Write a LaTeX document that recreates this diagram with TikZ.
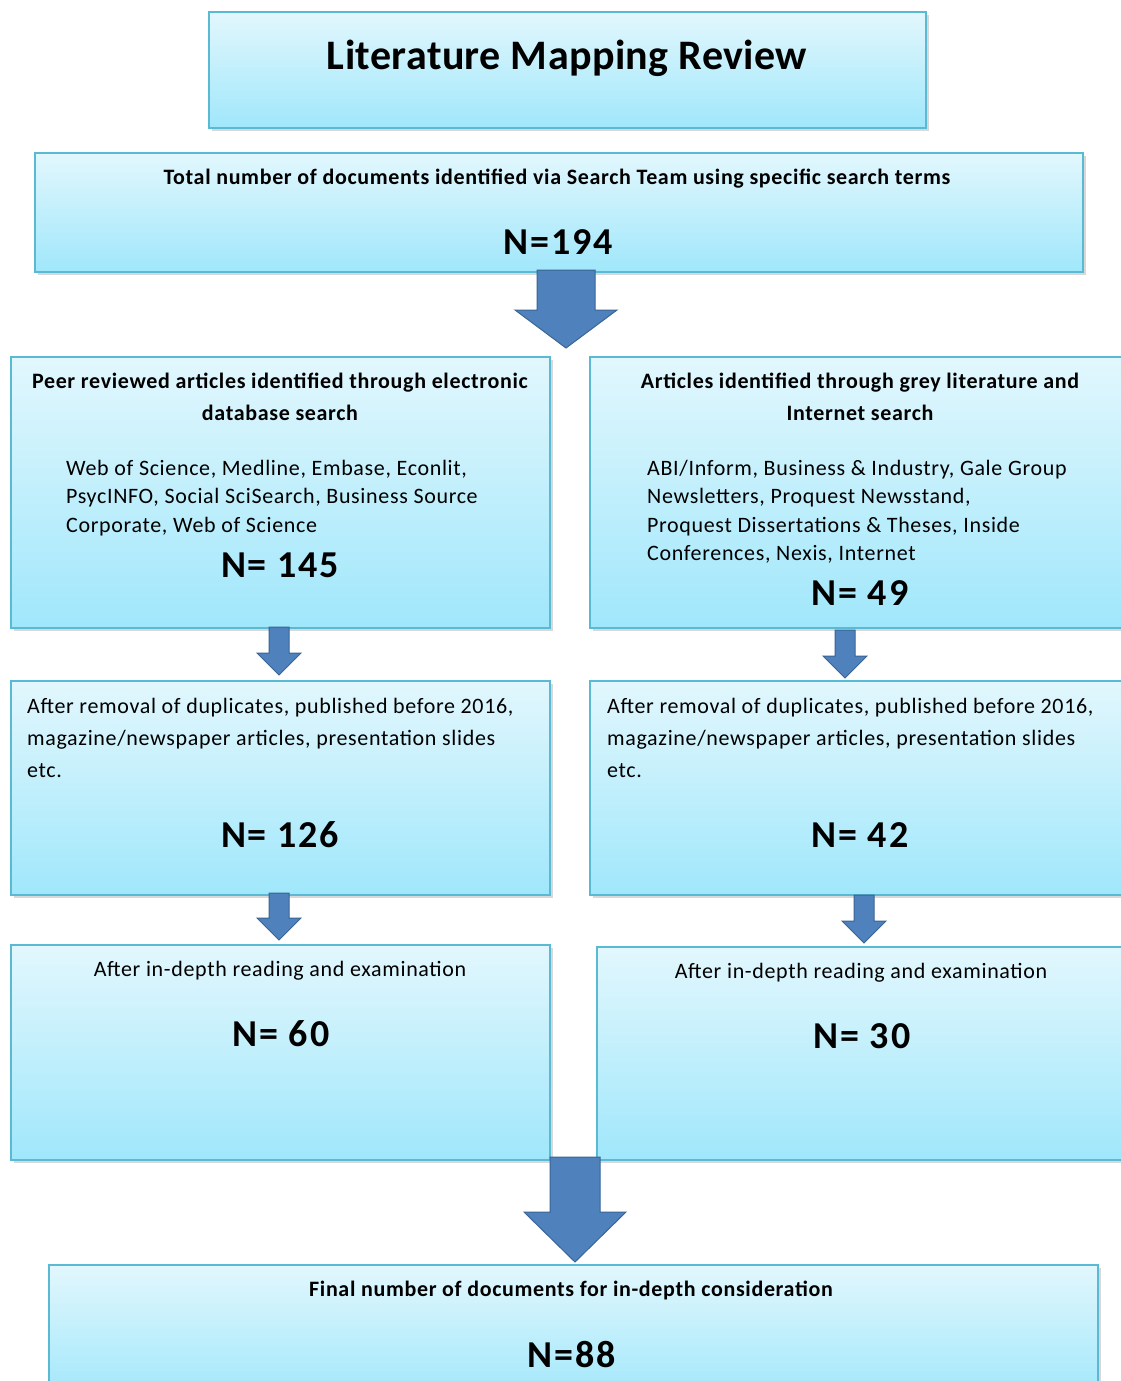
\documentclass[tikz,border=0pt]{standalone}
\usepackage{fontspec}
\setmainfont{Carlito}
\newfontfamily\spacedfont[LetterSpace=3]{Carlito}
\newfontfamily\countfont[LetterSpace=5]{Carlito}
\newfontfamily\titlefont[LetterSpace=1]{Carlito}
\usetikzlibrary{calc}
\usetikzlibrary{shadows}
\definecolor{boxtop}{HTML}{E2F7FD}
\definecolor{boxbot}{HTML}{A0E7FB}
\definecolor{boxline}{HTML}{5AB9D3}
\definecolor{arrowfill}{HTML}{4F81BD}
\definecolor{arrowline}{HTML}{3A6595}
\tikzset{x=1pt,y=-1pt,
    stage/.style={
        draw=boxline,
        line width=1.5pt,
        top color=boxtop,
        bottom color=boxbot,
        inner sep=0pt,
        drop shadow={shadow xshift=3pt,shadow yshift=-3pt,fill=black!30}},
    heading/.style={
        font=\spacedfont\bfseries\fontsize{22}{32}\selectfont,
        align=center,
        anchor=north,
        inner sep=0pt},
    listing/.style={
        font=\spacedfont\fontsize{22}{28.5}\selectfont,
        align=left,
        anchor=north west,
        inner sep=0pt},
    count/.style={
        font=\countfont\bfseries\fontsize{38}{40}\selectfont,
        anchor=base,
        inner sep=0pt},
    blockarrow/.style={
        fill=arrowfill,
        draw=arrowline,
        line width=1pt,
        line join=miter}}
% down block arrow: top, tip, half shaft, half head, head length
\newcommand{\downblock}[5]{%
    \draw[blockarrow] let \p1=(#1), \p2=(#2) in
        (\x1-#3,\y1) -- (\x1+#3,\y1) -- (\x1+#3,\y2+#5) -- (\x1+#4,\y2+#5)
        -- (\x1,\y2) -- (\x1-#4,\y2+#5) -- (\x1-#3,\y2+#5) -- cycle;}

\begin{document}
\begin{tikzpicture}
    \useasboundingbox[fill=white] (0,0) rectangle (1120,1381);

    \node[stage,minimum width=717,minimum height=116] (title) at (567.5,70) {};
    \node[stage,minimum width=1048,minimum height=119] (total) at (559,212.5) {};
    \node[stage,minimum width=539,minimum height=271] (peer) at (280.5,492.5) {};
    \node[stage,minimum width=540,minimum height=271] (grey) at (860,492.5) {};
    \node[stage,minimum width=539,minimum height=214] (dupl) at (280.5,788) {};
    \node[stage,minimum width=540,minimum height=214] (dupr) at (860,788) {};
    \node[stage,minimum width=539,minimum height=215] (readl) at (280.5,1052.5) {};
    \node[stage,minimum width=533,minimum height=213] (readr) at (863.5,1053.5) {};
    \node[stage,minimum width=1049,minimum height=135] (final) at (573.5,1332.5) {};

    \node[font=\titlefont\bfseries\fontsize{42}{44}\selectfont,anchor=base,inner sep=0pt] (titletext) at (567,70) {Literature Mapping Review};

    \node[heading] (totaltext) at (557,169) {Total number of documents identified via Search Team using specific search terms};
    \node[count] (totaln) at (558,254) {N=194};

    \node[heading] (peertext) at (280,373) {Peer reviewed articles identified through electronic\\database search};
    \node[listing] (peerlist) at (66,460) {Web of Science, Medline, Embase, Econlit,\\PsycINFO, Social SciSearch, Business Source\\Corporate, Web of Science};
    \node[count] (peern) at (280,577) {N= 145};

    \node[heading] (greytext) at (860,373) {Articles identified through grey literature and\\Internet search};
    \node[listing] (greylist) at (647,460) {ABI/Inform, Business \& Industry, Gale Group\\Newsletters, Proquest Newsstand,\\Proquest Dissertations \& Theses, Inside\\Conferences, Nexis, Internet};
    \node[count] (greyn) at (860,605) {N= 49};

    \node[listing,font=\spacedfont\fontsize{22}{32}\selectfont] (dupltext) at (27,698) {After removal of duplicates, published before 2016,\\magazine/newspaper articles, presentation slides\\etc.};
    \node[count] (dupln) at (280,847) {N= 126};
    \node[listing,font=\spacedfont\fontsize{22}{32}\selectfont] (duprtext) at (607,698) {After removal of duplicates, published before 2016,\\magazine/newspaper articles, presentation slides\\etc.};
    \node[count] (duprn) at (860,847) {N= 42};

    \node[font=\spacedfont\fontsize{22}{28}\selectfont,anchor=base,inner sep=0pt] (readltext) at (280,976) {After in-depth reading and examination};
    \node[count] (readln) at (281,1046) {N= 60};
    \node[font=\spacedfont\fontsize{22}{28}\selectfont,anchor=base,inner sep=0pt] (readrtext) at (861,978) {After in-depth reading and examination};
    \node[count] (readrn) at (862,1048) {N= 30};

    \node[heading] (finaltext) at (571,1281) {Final number of documents for in-depth consideration};
    \node[count] (finaln) at (572,1367) {N=88};

    % arrow ends
    \coordinate (a1) at (566,270);   \coordinate (a1tip) at (566,348);
    \coordinate (a2) at (279,627);   \coordinate (a2tip) at (279,675);
    \coordinate (a3) at (845,630);   \coordinate (a3tip) at (845,678);
    \coordinate (a4) at (279,893);   \coordinate (a4tip) at (279,940);
    \coordinate (a5) at (864,895);   \coordinate (a5tip) at (864,943);
    \coordinate (a6) at (575,1157);  \coordinate (a6tip) at (575,1262);

    \downblock{a1}{a1tip}{29pt}{51pt}{38pt}
    \downblock{a2}{a2tip}{10pt}{22pt}{22pt}
    \downblock{a3}{a3tip}{10pt}{22pt}{22pt}
    \downblock{a4}{a4tip}{10pt}{22pt}{22pt}
    \downblock{a5}{a5tip}{10pt}{22pt}{22pt}
    \downblock{a6}{a6tip}{25pt}{51pt}{50pt}
\end{tikzpicture}
\end{document}
